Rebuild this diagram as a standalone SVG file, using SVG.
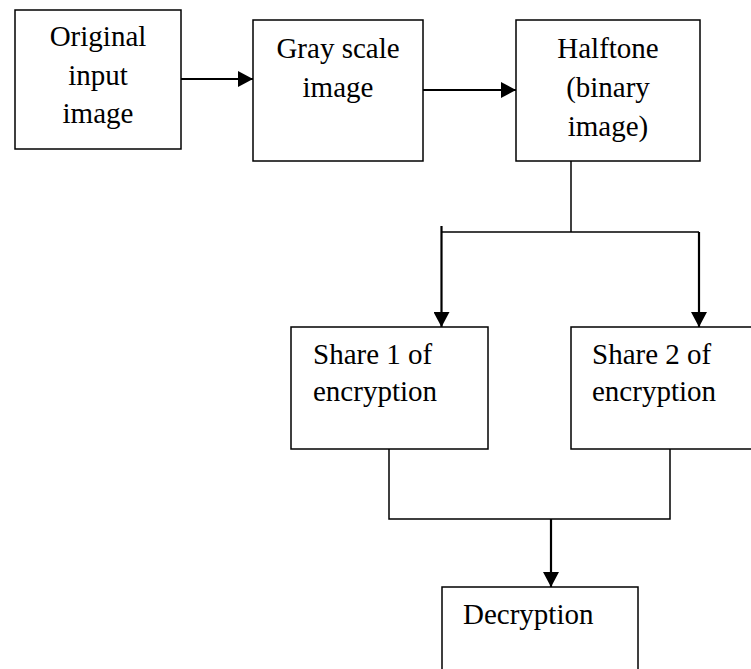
<svg xmlns="http://www.w3.org/2000/svg" width="751" height="669" viewBox="0 0 751 669">
  <style>
    .box { fill: #ffffff; stroke: #000000; stroke-width: 1.5; }
    .lbl { font-family: "Liberation Serif", "Times New Roman", serif; font-size: 29px; fill: #000000; }
    .mid { text-anchor: middle; }
    .line { fill: none; stroke: #000000; stroke-width: 1.5; }
    .arrow { fill: none; stroke: #000000; stroke-width: 2.2; marker-end: url(#head); }
  </style>
  <defs>
    <marker id="head" markerUnits="userSpaceOnUse" markerWidth="16" markerHeight="16" refX="15" refY="8" orient="auto">
      <path d="M0,0 L15,8 L0,16 Z" fill="#000000"/>
    </marker>
  </defs>
  <rect width="751" height="669" fill="#ffffff"/>

  <g id="connectors">
    <path class="arrow" d="M181,79 H253"/>
    <path class="arrow" d="M423,90 H516"/>
    <path class="line" d="M571,161 V232"/>
    <path class="line" d="M441.5,232 H699"/>
    <path class="arrow" d="M441.5,226 V327"/>
    <path class="arrow" d="M699,232 V327"/>
    <path class="line" d="M389,449 V519 H670 V449"/>
    <path class="arrow" d="M551,519 V587"/>
  </g>

  <g id="original">
    <rect class="box" x="15" y="10" width="166" height="139"/>
    <text class="lbl mid" x="98" y="46">Original</text>
    <text class="lbl mid" x="98" y="85">input</text>
    <text class="lbl mid" x="98" y="123">image</text>
  </g>

  <g id="grayscale">
    <rect class="box" x="253" y="20" width="170" height="141"/>
    <text class="lbl mid" x="338" y="58">Gray scale</text>
    <text class="lbl mid" x="338" y="97">image</text>
  </g>

  <g id="halftone">
    <rect class="box" x="516" y="20" width="184" height="141"/>
    <text class="lbl mid" x="608" y="58">Halftone</text>
    <text class="lbl mid" x="608" y="97">(binary</text>
    <text class="lbl mid" x="608" y="136">image)</text>
  </g>

  <g id="share1">
    <rect class="box" x="291" y="327" width="197" height="122"/>
    <text class="lbl" x="313" y="364">Share 1 of</text>
    <text class="lbl" x="313" y="401">encryption</text>
  </g>

  <g id="share2">
    <rect class="box" x="571" y="327" width="190" height="122"/>
    <text class="lbl" x="592" y="364">Share 2 of</text>
    <text class="lbl" x="592" y="401">encryption</text>
  </g>

  <g id="decryption">
    <rect class="box" x="442" y="587" width="196" height="100"/>
    <text class="lbl" x="463" y="624">Decryption</text>
  </g>
</svg>
